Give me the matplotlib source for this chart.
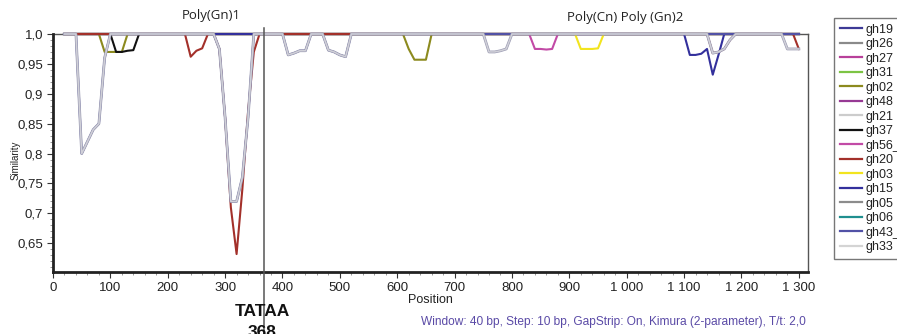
import matplotlib
matplotlib.use("Agg")
import matplotlib.pyplot as plt
from matplotlib.lines import Line2D
from matplotlib.ticker import MultipleLocator, FuncFormatter

plt.rcParams["font.family"] = ["Liberation Sans", "DejaVu Sans"]

# positions of the sliding window (step 10 bp)
positions = list(range(20, 1310, 10))

# dips below 1.0 for each sequence: {position: similarity}
dips = {
    "gh02": {80: 1.0, 90: 0.97, 100: 0.97, 110: 0.97, 120: 0.97, 130: 1.0,
             610: 1.0, 620: 0.975, 630: 0.957, 640: 0.957, 650: 0.957, 660: 1.0},
    "gh37": {100: 1.0, 110: 0.97, 120: 0.97, 130: 0.972, 140: 0.973, 150: 1.0},
    "gh56_": {830: 1.0, 840: 0.975, 850: 0.975, 860: 0.974, 870: 0.975, 880: 1.0},
    "gh03": {910: 1.0, 920: 0.975, 930: 0.975, 940: 0.975, 950: 0.976, 960: 1.0},
    "gh20": {230: 1.0, 240: 0.962, 250: 0.972, 260: 0.976, 270: 1.0,
             280: 1.0, 290: 0.975, 300: 0.86, 310: 0.71, 320: 0.632, 330: 0.74,
             340: 0.87, 350: 0.97, 360: 1.0,
             1140: 1.0, 1150: 0.968, 1160: 0.97, 1170: 0.975, 1180: 0.99, 1190: 1.0,
             1290: 1.0, 1300: 0.975},
    "gh15": {1100: 1.0, 1110: 0.965, 1120: 0.965, 1130: 0.967, 1140: 0.975,
             1150: 0.932, 1160: 0.965, 1170: 1.0},
    "gh43_": {40: 1.0, 50: 0.80, 60: 0.82, 70: 0.84, 80: 0.85, 90: 0.96, 100: 1.0,
              280: 1.0, 290: 0.975, 300: 0.86, 310: 0.72, 320: 0.72, 330: 0.76,
              340: 0.86, 350: 1.0,
              400: 1.0, 410: 0.965, 420: 0.968, 430: 0.972, 440: 0.972, 450: 1.0,
              470: 1.0, 480: 0.973, 490: 0.97, 500: 0.965, 510: 0.962, 520: 1.0},
}
grey_dips = dict(dips["gh43_"])
grey_dips.update({750: 1.0, 760: 0.97, 770: 0.97, 780: 0.972, 790: 0.975, 800: 1.0,
                  1140: 1.0, 1150: 0.968, 1160: 0.97, 1170: 0.975, 1180: 0.99, 1190: 1.0,
                  1270: 1.0, 1280: 0.975, 1290: 0.975, 1300: 0.975})
dips["gh05"] = grey_dips
dips["gh33"] = grey_dips

names = ["gh19", "gh26", "gh27", "gh31", "gh02", "gh48", "gh21", "gh37",
         "gh56_", "gh20", "gh03", "gh15", "gh05", "gh06", "gh43_", "gh33"]
colors = ["#3d3a96", "#8a8a8a", "#b8409a", "#7cc444", "#8c8a1e", "#973a94",
          "#cccccc", "#111111", "#c24aa6", "#a3302a", "#f2e41e", "#33309c",
          "#8c8c8c", "#1f8f8f", "#5252a6", "#d4d4d4"]
# drawing order (later = on top)
zorders = {"gh15": 3.5, "gh20": 4, "gh43_": 5, "gh05": 20, "gh33": 21}
widths = {"gh05": 2.0, "gh33": 1.1}
draw_colors = {"gh05": "#9a9ab2", "gh33": "#d0d0d8"}

tataa_pos = 368

fig = plt.figure(figsize=(8.97, 3.34), dpi=100)
ax = fig.add_axes([53 / 897, 62 / 334, 755 / 897, 238 / 334])

handles = []
for name, col in zip(names, colors):
    d = dips.get(name, {})
    vals = [d.get(p, 1.0) for p in positions]
    ax.plot(positions, vals, color=draw_colors.get(name, col),
            lw=widths.get(name, 1.5), zorder=zorders.get(name, 3), clip_on=False)
    handles.append(Line2D([], [], color=col, lw=1.6))

ax.set_xlim(0, 1316)
ax.set_ylim(0.602, 1.0)
ax.xaxis.set_major_locator(MultipleLocator(100))
ax.xaxis.set_minor_locator(MultipleLocator(20))
ax.set_yticks([0.65, 0.7, 0.75, 0.8, 0.85, 0.9, 0.95, 1.0])
ax.yaxis.set_minor_locator(MultipleLocator(0.01))


def fmt_x(v, _):
    return f"{int(v):,}".replace(",", " ")


def fmt_y(v, _):
    if abs(v - 1.0) < 1e-9:
        return "1,0"
    return f"{v:.2f}".rstrip("0").replace(".", ",")


ax.xaxis.set_major_formatter(FuncFormatter(fmt_x))
ax.yaxis.set_major_formatter(FuncFormatter(fmt_y))
ax.tick_params(axis="both", which="major", direction="out", length=4, width=0.8,
               labelsize=9.5, colors="#333333", labelcolor="#222222", pad=3)
ax.tick_params(axis="both", which="minor", direction="out", length=2, width=0.6,
               colors="#888888")

for side in ["left", "bottom"]:
    ax.spines[side].set_linewidth(2)
    ax.spines[side].set_color("#222222")
for side in ["top", "right"]:
    ax.spines[side].set_linewidth(1)
    ax.spines[side].set_color("#555555")
    ax.spines[side].set_zorder(1)

ax.set_xlabel("Position", fontsize=9, labelpad=0, color="#222222")
ax.set_ylabel("Similarity", fontsize=7, color="#222222")
ax.yaxis.set_label_coords(-0.043, 0.47)

# TATAA box marker
ax.axvline(tataa_pos, ymin=-0.27, ymax=1.025, color="#555555", lw=1.1,
           clip_on=False, zorder=30)
fig.text(262 / 897, 1 - 311 / 334, "TATAA", fontsize=12.5, fontweight="bold",
         ha="center", va="center", color="#111111")
fig.text(262 / 897, 1 - 325 / 334, str(tataa_pos), fontsize=12.5, fontweight="bold",
         ha="center", va="top", color="#111111")

fig.text(211 / 897, 1 - 16 / 334, "Poly(Gn)1", fontsize=9.5, family="Open Sans",
         ha="center", va="center", color="#222222")
fig.text(625 / 897, 1 - 18 / 334, "Poly(Cn) Poly (Gn)2", fontsize=9.5,
         family="Open Sans", ha="center", va="center", color="#222222")

fig.text(806 / 897, 1 - 322 / 334,
         "Window: 40 bp, Step: 10 bp, GapStrip: On, Kimura (2-parameter), T/t: 2,0",
         fontsize=8.6, ha="right", va="center", color="#5a4aa6")

leg = fig.legend(handles, names, loc="upper left",
                 bbox_to_anchor=(834 / 897, 1 - 18 / 334), borderaxespad=0,
                 fontsize=9, handlelength=1.8, handletextpad=0.3,
                 labelspacing=0.2, borderpad=0.45, frameon=True, fancybox=False)
leg.get_frame().set_edgecolor("#555555")
leg.get_frame().set_linewidth(1)
for t in leg.get_texts():
    t.set_color("#222222")

fig.savefig("out.png", dpi=100)
